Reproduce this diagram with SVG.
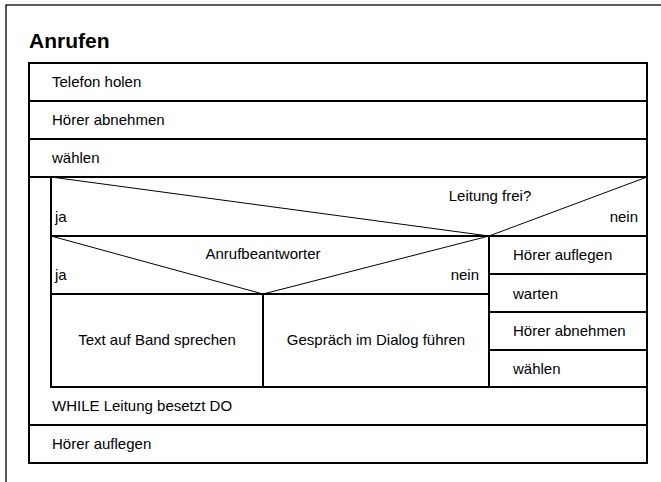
<svg xmlns="http://www.w3.org/2000/svg" width="661" height="482" viewBox="0 0 661 482">
<style>
.b{fill:#fff;stroke:#000;stroke-width:2}
.d{fill:none;stroke:#000;stroke-width:1}
.t{font-family:"Liberation Sans",Arial,sans-serif;font-size:15px;fill:#000}
.m{text-anchor:middle}
.e{text-anchor:end}
</style>
<rect x="0" y="0" width="661" height="482" fill="#fff"/>
<g id="frame"><rect x="6" y="5" width="700" height="520" fill="none" stroke="#000" stroke-width="1.3"/></g>
<g id="title"><text x="29" y="48" font-family="Liberation Sans,Arial,sans-serif" font-size="21" font-weight="bold">Anrufen</text></g>
<g id="s1"><rect class="b" x="29" y="63" width="618" height="38"/><text class="t" x="52" y="87">Telefon holen</text></g>
<g id="s2"><rect class="b" x="29" y="101" width="618" height="38"/><text class="t" x="52" y="125">Hörer abnehmen</text></g>
<g id="s3"><rect class="b" x="29" y="139" width="618" height="38"/><text class="t" x="52" y="163">wählen</text></g>
<g id="loop"><rect class="b" x="29" y="177" width="618" height="248"/><text class="t" x="52" y="411">WHILE Leitung besetzt DO</text></g>
<g id="dec1"><rect class="b" x="51" y="177" width="596" height="59"/><text class="t m" x="490" y="201">Leitung frei?</text><text class="t" x="55" y="222">ja</text><text class="t e" x="638" y="222">nein</text></g>
<g id="dec2"><rect class="b" x="51" y="236" width="438" height="58"/><text class="t m" x="263" y="259">Anrufbeantworter</text><text class="t" x="55" y="280">ja</text><text class="t e" x="479" y="280">nein</text></g>
<g id="a1"><rect class="b" x="51" y="294" width="212" height="93"/><text class="t m" x="157" y="345">Text auf Band sprechen</text></g>
<g id="a2"><rect class="b" x="263" y="294" width="226" height="93"/><text class="t m" x="376" y="345">Gespräch im Dialog führen</text></g>
<g id="r1"><rect class="b" x="489" y="236" width="158" height="38"/><text class="t" x="513" y="260">Hörer auflegen</text></g>
<g id="r2"><rect class="b" x="489" y="274" width="158" height="38"/><text class="t" x="513" y="299">warten</text></g>
<g id="r3"><rect class="b" x="489" y="312" width="158" height="38"/><text class="t" x="513" y="336">Hörer abnehmen</text></g>
<g id="r4"><rect class="b" x="489" y="350" width="158" height="37"/><text class="t" x="513" y="374">wählen</text></g>
<g id="s4"><rect class="b" x="29" y="425" width="618" height="38"/><text class="t" x="52" y="449">Hörer auflegen</text></g>
<g id="connectors">
<line class="d" x1="51" y1="177" x2="489" y2="236"/>
<line class="d" x1="647" y1="177" x2="489" y2="236"/>
<line class="d" x1="51" y1="236" x2="263" y2="294"/>
<line class="d" x1="489" y1="236" x2="263" y2="294"/>
</g>
</svg>
